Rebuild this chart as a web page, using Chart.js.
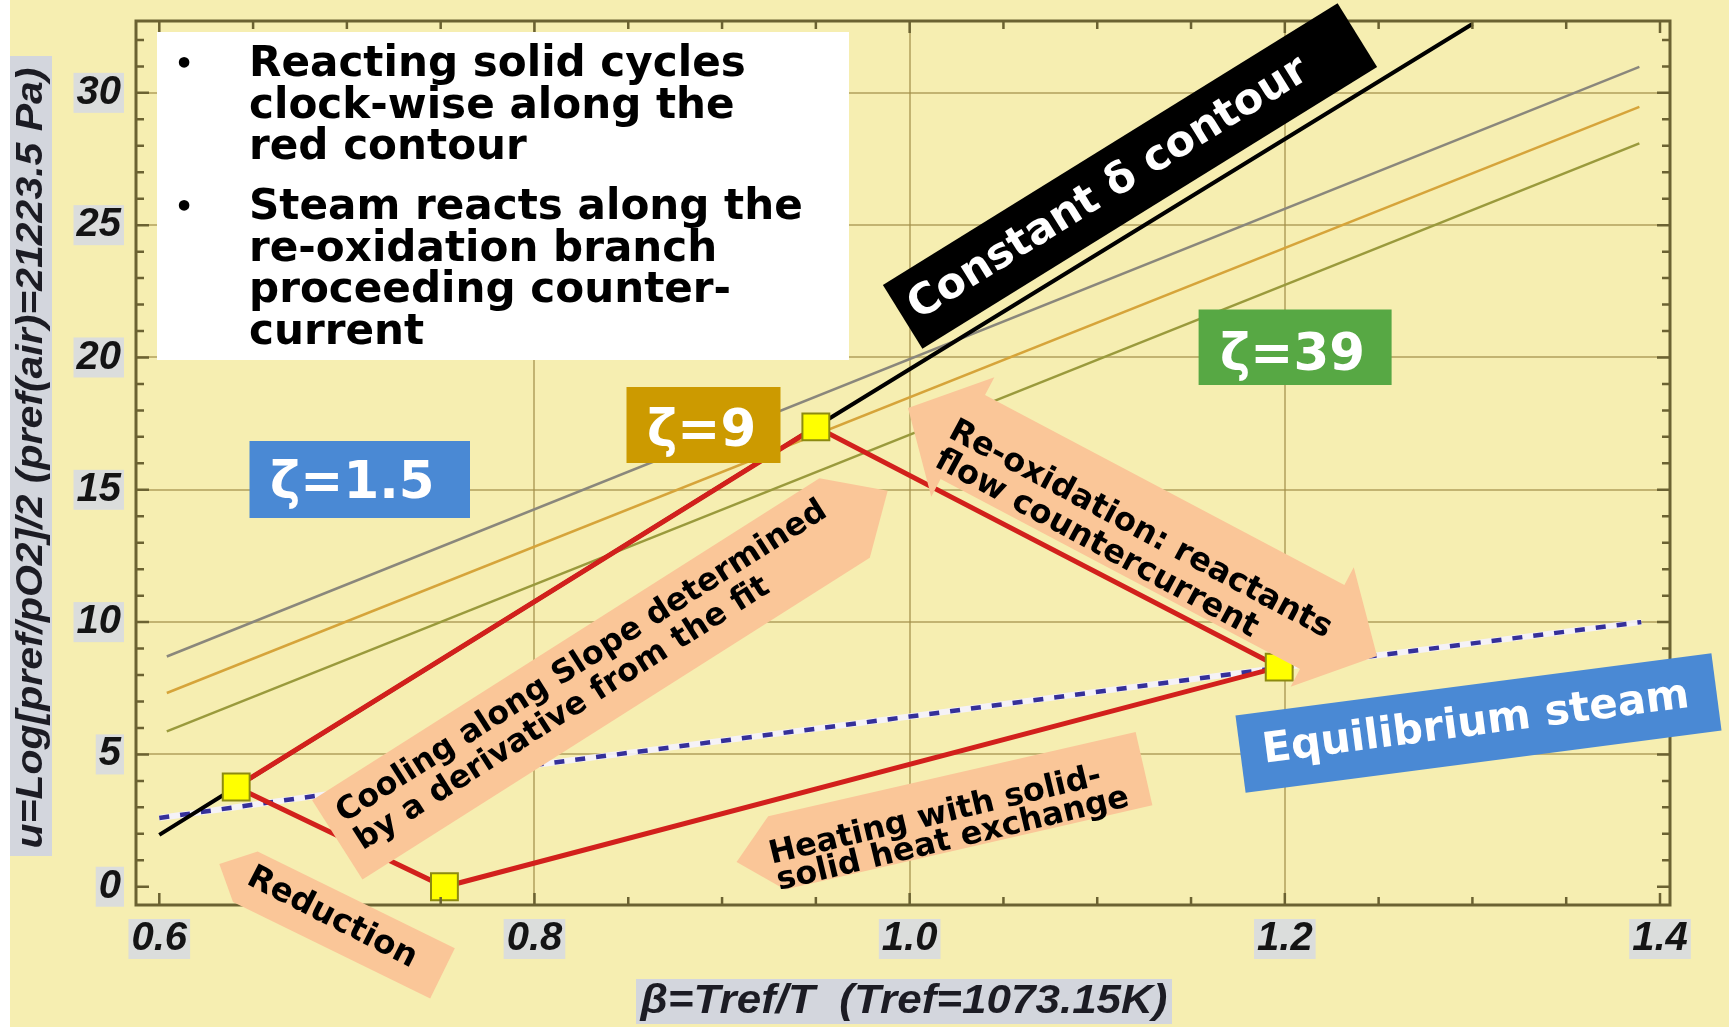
<!DOCTYPE html>
<html>
<head>
<meta charset="utf-8">
<style>
html,body{margin:0;padding:0;background:#f6eeb1;overflow:hidden}
canvas{display:block}
</style>
<script src="https://cdn.jsdelivr.net/npm/chart.js@4.4.1/dist/chart.umd.min.js"></script>
</head>
<body>
<canvas id="c" width="1729" height="1027"></canvas>
<script>
// ---------------- data ----------------
const xTickValues = [0.6, 0.8, 1.0, 1.2, 1.4];
const yTickValues = [0, 5, 10, 15, 20, 25, 30];
const xGridValues = [0.8, 1.0, 1.2];

// red cycle (clock-wise): reduction corner -> cooled -> re-oxidised -> heated
const cycleBeta = [0.641, 0.950, 1.197, 0.752, 0.641];
const cycleU    = [3.77, 17.38, 8.30, 0.00, 3.77];
const cornerBeta = [0.641, 0.950, 1.197, 0.752];
const cornerU    = [3.77, 17.38, 8.30, 0.00];

// constant delta contour (passes through the two upper cycle corners)
const deltaBeta = [0.600, 0.641, 0.950, 1.300];
const deltaU    = [1.96, 3.77, 17.38, 32.60];

// equilibrium steam
const steamBeta = [0.600, 0.800, 1.000, 1.200, 1.390];
const steamU    = [2.60, 4.60, 6.43, 8.30, 10.00];

// zeta lines
const zetaBeta = [0.604, 1.389];
const zeta15U  = [8.70, 30.98];
const zeta9U   = [7.32, 29.47];
const zeta39U  = [5.87, 28.09];

const pts = (xs, ys) => xs.map((x, i) => ({x: x, y: ys[i]}));

// ---------------- drawing helpers ----------------
const W = 1729, H = 1027;
const FS = "'DejaVu Sans', Verdana, sans-serif";
const FN = "'Liberation Sans Narrow', 'Arial Narrow', 'Liberation Sans', Arial, sans-serif";
const PEACH = '#fac698';
const BLUE = '#4a89d4';

function sizeFor(c, text, target, weight, family, style) {
  c.font = `${style || 'normal'} ${weight} 100px ${family}`;
  return 100 * target / c.measureText(text).width;
}
function put(c, text, x, y, deg, size, o) {
  o = o || {};
  c.save();
  c.translate(x, y);
  if (deg) c.rotate(deg * Math.PI / 180);
  if (o.sx) c.scale(o.sx, 1);
  c.font = `${o.style || 'normal'} ${o.weight || 'bold'} ${size}px ${o.family || FS}`;
  c.fillStyle = o.color || '#000';
  c.textAlign = o.align || 'center';
  c.textBaseline = o.baseline || 'middle';
  c.fillText(text, 0, 0);
  c.restore();
}
function rbox(c, cx, cy, w, h, deg, fill) {
  c.save();
  c.translate(cx, cy);
  c.rotate(deg * Math.PI / 180);
  c.fillStyle = fill;
  c.fillRect(-w / 2, -h / 2, w, h);
  c.restore();
}
function poly(c, p, fill) {
  c.beginPath();
  c.moveTo(p[0][0], p[0][1]);
  for (let i = 1; i < p.length; i++) c.lineTo(p[i][0], p[i][1]);
  c.closePath();
  c.fillStyle = fill;
  c.fill();
}
function pentArrow(c, tail, tip, width, head, fill) {
  const dx = tip[0] - tail[0], dy = tip[1] - tail[1], L = Math.hypot(dx, dy);
  const ux = dx / L, uy = dy / L, nx = -uy, ny = ux;
  const P = (a, p) => [tail[0] + ux * a + nx * p, tail[1] + uy * a + ny * p];
  poly(c, [P(0, -width / 2), P(L - head, -width / 2), P(L, 0), P(L - head, width / 2), P(0, width / 2)], fill);
}
function dblArrow(c, A, B, bw, hw, hl, fill) {
  const dx = B[0] - A[0], dy = B[1] - A[1], L = Math.hypot(dx, dy);
  const ux = dx / L, uy = dy / L, nx = -uy, ny = ux;
  const P = (a, p) => [A[0] + ux * a + nx * p, A[1] + uy * a + ny * p];
  poly(c, [P(0, 0), P(hl, -hw / 2), P(hl, -bw / 2), P(L - hl, -bw / 2), P(L - hl, -hw / 2), P(L, 0),
           P(L - hl, hw / 2), P(L - hl, bw / 2), P(hl, bw / 2), P(hl, hw / 2)], fill);
}

const deco = {
  id: 'deco',
  beforeDraw(chart) {
    const c = chart.ctx;
    c.save();
    c.fillStyle = '#f6eeb1';
    c.fillRect(0, 0, W, H);
    c.fillStyle = '#ffffff';
    c.fillRect(0, 0, 10, H);
    // axis titles with grey backdrops
    c.fillStyle = '#d3d6dd';
    c.fillRect(10, 56, 42, 800);
    c.fillRect(636, 979, 536, 45);
    const yt = 'u=Log[pref/pO2]/2 (pref(air)=21223.5 Pa)';
    c.font = `italic bold 36px ${FN}`;
    const ysx = 781 / c.measureText(yt).width;
    put(c, yt, 32, 458, -90, 36, {style: 'italic', weight: 'bold', family: FN, sx: ysx, color: '#1c1c24'});
    const xt = '\u03b2=Tref/T  (Tref=1073.15K)';
    c.font = `italic bold 41px ${FN}`;
    const xsx = 527 / c.measureText(xt).width;
    put(c, xt, 904, 1002, 0, 41, {style: 'italic', weight: 'bold', family: FN, sx: xsx, color: '#1c1c24'});
    c.restore();
  },
  afterDatasetsDraw(chart) {
    const c = chart.ctx;
    const a = chart.chartArea;
    const xs = chart.scales.x, ys = chart.scales.y;
    c.save();
    // frame
    c.strokeStyle = '#6b6232';
    c.lineWidth = 3;
    c.strokeRect(a.left, a.top, a.right - a.left, a.bottom - a.top);
    // inward ticks
    c.lineWidth = 2.5;
    c.beginPath();
    for (let i = 0; i <= 16; i++) {
      const v = 0.6 + 0.05 * i;
      const px = xs.getPixelForValue(v);
      const len = (i % 4 === 0) ? 12 : 8;
      c.moveTo(px, a.bottom); c.lineTo(px, a.bottom - len);
      c.moveTo(px, a.top); c.lineTo(px, a.top + len);
    }
    for (let v = 0; v <= 32; v++) {
      const py = ys.getPixelForValue(v);
      const len = (v % 5 === 0) ? 13 : 8;
      c.moveTo(a.left, py); c.lineTo(a.left + len, py);
      c.moveTo(a.right, py); c.lineTo(a.right - len, py);
    }
    c.stroke();

    // ---- annotations ----
    // bullet text box
    c.fillStyle = '#ffffff';
    c.fillRect(157, 32, 692, 328);
    const boxLines = ['Reacting solid cycles', 'clock-wise along the', 'red contour',
                      'Steam reacts along the', 're-oxidation branch', 'proceeding counter-', 'current'];
    const boxBase = [76, 118, 159, 219, 261, 302, 344];
    const bs = sizeFor(c, boxLines[0], 497, 'bold', FS);
    boxLines.forEach((t, i) => put(c, t, 249, boxBase[i], 0, bs, {align: 'left', baseline: 'alphabetic'}));
    put(c, '\u2022', 184, boxBase[0] - 2, 0, 30, {baseline: 'alphabetic'});
    put(c, '\u2022', 184, boxBase[3] - 2, 0, 30, {baseline: 'alphabetic'});

    // Constant delta contour
    rbox(c, 1130, 176, 535, 75, -31.8, '#000000');
    const cs = sizeFor(c, 'Constant \u03b4 contour', 462, 'bold', FS);
    put(c, 'Constant \u03b4 contour', 1130 - 25 * Math.cos(31.8 * Math.PI / 180), 176 + 25 * Math.sin(31.8 * Math.PI / 180), -31.8, cs, {color: '#ffffff'});

    // zeta boxes
    const zs = sizeFor(c, '\u03b6=39', 145, 'bold', FS);
    c.fillStyle = BLUE; c.fillRect(249.5, 441, 220.5, 77);
    put(c, '\u03b6=1.5', 270, 498, 0, zs, {align: 'left', baseline: 'alphabetic', color: '#ffffff'});
    c.fillStyle = '#cc9a00'; c.fillRect(626.5, 387, 154, 76);
    put(c, '\u03b6=9', 647, 446, 0, zs, {align: 'left', baseline: 'alphabetic', color: '#ffffff'});
    c.fillStyle = '#57a844'; c.fillRect(1198.6, 309.5, 193, 75.5);
    put(c, '\u03b6=39', 1220, 370, 0, zs, {align: 'left', baseline: 'alphabetic', color: '#ffffff'});

    // Equilibrium steam
    rbox(c, 1478.5, 723, 480, 78, -7.47, BLUE);
    const es = sizeFor(c, 'Equilibrium steam', 430, 'bold', FS);
    put(c, 'Equilibrium steam', 1476, 724, -7.47, es, {color: '#ffffff'});

    // Reduction arrow
    pentArrow(c, [442.5, 973.3], [219.3, 864], 56, 29, PEACH);
    const rs = sizeFor(c, 'Reduction', 186, 'bold', FS);
    put(c, 'Reduction', 332, 918, 27, rs);

    // Cooling arrow
    pentArrow(c, [337.3, 839.9], [887.7, 490.7], 94, 51, PEACH);
    const ks = sizeFor(c, 'Cooling along Slope determined', 574, 'bold', FS);
    put(c, 'Cooling along Slope determined', 339.6, 816, -32.4, ks, {align: 'left'});
    put(c, 'by a derivative from the fit', 358.4, 843.6, -32.4, ks, {align: 'left'});

    // Heating arrow
    pentArrow(c, [1144, 768.6], [736.6, 862], 75, 41, PEACH);
    const hs = sizeFor(c, 'Heating with solid-', 341, 'bold', FS);
    put(c, 'Heating with solid-', 769.7, 855.7, -13.5, hs, {align: 'left'});
    put(c, 'solid heat exchange', 777.4, 882, -13.5, hs, {align: 'left'});

    // Re-oxidation double arrow
    dblArrow(c, [908, 408], [1377, 656], 95, 135, 62, PEACH);
    const os = sizeFor(c, 'Re-oxidation: reactants', 429, 'bold', FS);
    put(c, 'Re-oxidation: reactants', 951, 429, 28.1, os, {align: 'left'});
    put(c, 'flow countercurrent', 937, 458, 28.4, os, {align: 'left'});

    c.restore();
  }
};

Chart.defaults.font.family = FN;

const tickFont = {family: FN, size: 40, style: 'italic', weight: 'bold'};
const noPad = s => { s.paddingTop = 0; s.paddingBottom = 0; s.paddingLeft = 0; s.paddingRight = 0; };

new Chart(document.getElementById('c'), {
  type: 'scatter',
  data: {
    datasets: [
      {label: 'cycle corners', data: pts(cornerBeta, cornerU), showLine: false,
       pointStyle: 'rect', pointRadius: 19, pointBackgroundColor: '#ffff00',
       pointBorderColor: '#8c8a10', pointBorderWidth: 2},
      {label: 'reacting solid cycle', data: pts(cycleBeta, cycleU), showLine: true,
       borderColor: '#d2201c', borderWidth: 5, pointRadius: 0, tension: 0},
      {label: 'constant delta contour', data: pts(deltaBeta, deltaU), showLine: true,
       borderColor: '#000000', borderWidth: 4, pointRadius: 0},
      {label: 'equilibrium steam', data: pts(steamBeta, steamU), showLine: true,
       borderColor: '#35309a', borderWidth: 4.5, borderDash: [10, 11], pointRadius: 0},
      {label: 'equilibrium steam halo', data: pts(steamBeta, steamU), showLine: true,
       borderColor: 'rgba(245,242,255,0.9)', borderWidth: 6, pointRadius: 0},
      {label: 'zeta=1.5', data: pts(zetaBeta, zeta15U), showLine: true,
       borderColor: '#8a877c', borderWidth: 2.5, pointRadius: 0},
      {label: 'zeta=9', data: pts(zetaBeta, zeta9U), showLine: true,
       borderColor: '#d6a43a', borderWidth: 2.5, pointRadius: 0},
      {label: 'zeta=39', data: pts(zetaBeta, zeta39U), showLine: true,
       borderColor: '#9a9a3c', borderWidth: 2.5, pointRadius: 0}
    ]
  },
  options: {
    responsive: false,
    animation: false,
    devicePixelRatio: 1,
    layout: {padding: {left: 0, top: 19, right: 59, bottom: 0}},
    plugins: {legend: {display: false}, tooltip: {enabled: false}},
    scales: {
      x: {
        type: 'linear', min: 0.58758, max: 1.40533,
        afterBuildTicks: s => { s.ticks = xTickValues.map(v => ({value: v})); },
        afterFit: s => { s.height = 122; noPad(s); },
        border: {display: false},
        grid: {
          drawTicks: false, lineWidth: 2,
          color: ctx => xGridValues.some(v => Math.abs(v - ctx.tick.value) < 1e-6) ? 'rgba(160,140,70,0.6)' : 'rgba(0,0,0,0)'
        },
        ticks: {
          padding: 10, font: tickFont, color: '#141414',
          callback: v => Number(v).toFixed(1),
          showLabelBackdrop: true, backdropColor: 'rgba(214,217,228,0.85)', backdropPadding: {top: -4, bottom: -4, left: 3, right: 3},
          maxRotation: 0, autoSkip: false
        }
      },
      y: {
        type: 'linear', min: -0.690, max: 32.715,
        afterBuildTicks: s => { s.ticks = yTickValues.map(v => ({value: v})); },
        afterFit: s => { s.width = 136; noPad(s); },
        border: {display: false},
        grid: {
          drawTicks: false, lineWidth: 2,
          color: ctx => ctx.tick.value > 0 ? 'rgba(160,140,70,0.6)' : 'rgba(0,0,0,0)'
        },
        ticks: {
          padding: 15, font: tickFont, color: '#141414',
          callback: v => String(v),
          showLabelBackdrop: true, backdropColor: 'rgba(214,217,228,0.85)', backdropPadding: {top: -4, bottom: -4, left: 3, right: 3},
          autoSkip: false
        }
      }
    }
  },
  plugins: [deco]
});
</script>
</body>
</html>
